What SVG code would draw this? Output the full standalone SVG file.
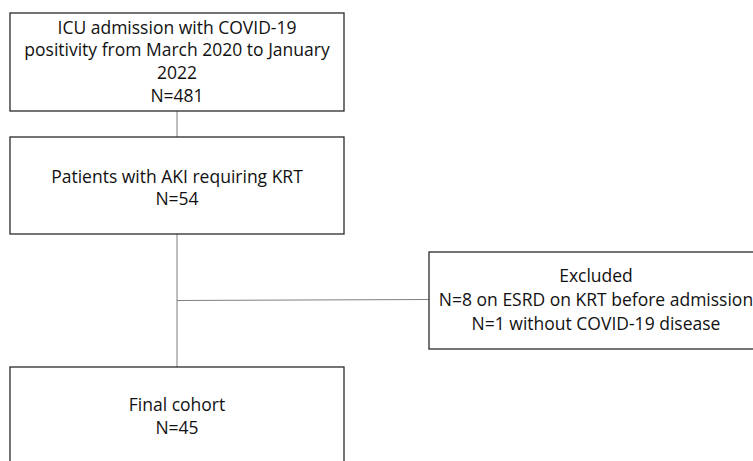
<svg xmlns="http://www.w3.org/2000/svg" width="753" height="461" viewBox="0 0 753 461">
<style>
.box{fill:#fff;stroke:#2a2a2a;stroke-width:1.3}
.t{font-family:"Open Sans","Liberation Sans",sans-serif;font-size:17.5px;fill:#111;text-anchor:middle}
.c{stroke:#7f7f7f;stroke-width:1;fill:none}
</style>
<rect width="753" height="461" fill="#fff"/>
<g id="connectors">
<line class="c" x1="177" y1="111" x2="177" y2="137"/>
<line class="c" x1="177" y1="234" x2="177" y2="367"/>
<line class="c" x1="177" y1="300.5" x2="429" y2="299.5"/>
</g>
<g id="n1">
<rect class="box" x="10" y="13" width="334" height="98"/>
<text class="t" x="177" y="34">ICU admission with COVID-19</text>
<text class="t" x="177" y="56">positivity from March 2020 to January</text>
<text class="t" x="177" y="79">2022</text>
<text class="t" x="177" y="102">N=481</text>
</g>
<g id="n2">
<rect class="box" x="10" y="137" width="334" height="97"/>
<text class="t" x="177" y="183">Patients with AKI requiring KRT</text>
<text class="t" x="177" y="205">N=54</text>
</g>
<g id="n3">
<rect class="box" x="429" y="252" width="334" height="97"/>
<text class="t" x="596" y="282">Excluded</text>
<text class="t" x="596" y="306">N=8 on ESRD on KRT before admission</text>
<text class="t" x="596" y="330">N=1 without COVID-19 disease</text>
</g>
<g id="n4">
<rect class="box" x="10" y="367" width="334" height="110"/>
<text class="t" x="177" y="411">Final cohort</text>
<text class="t" x="177" y="434">N=45</text>
</g>
</svg>
